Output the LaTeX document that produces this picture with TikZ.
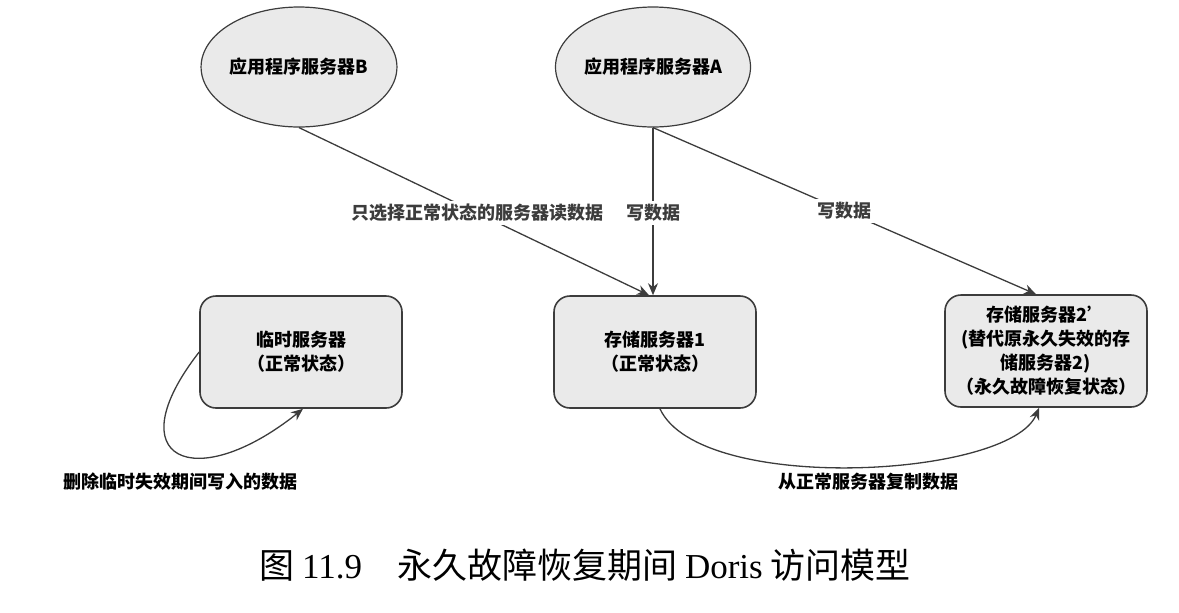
\documentclass[tikz,border=0pt]{standalone}
\usepackage{fontspec}
\setmainfont{Noto Sans CJK SC}
\newfontfamily\capserif{Liberation Serif}
\usetikzlibrary{arrows.meta,shapes.geometric}
\definecolor{nodeGray}{RGB}{234,234,234}
\definecolor{lineGray}{RGB}{60,60,60}

\begin{document}
\begin{tikzpicture}[x=0.5pt,y=-0.5pt,font=\fontsize{9}{12}\selectfont\bfseries,
  app/.style={ellipse,draw=lineGray,fill=nodeGray,line width=0.6pt,minimum width=94pt,minimum height=60pt,inner sep=0pt},
  srv/.style={draw=lineGray,fill=nodeGray,line width=0.8pt,rounded corners=8pt,minimum width=101pt,minimum height=56pt,align=center,inner sep=2pt},
  a/.style={-{Stealth[length=6pt,width=5pt]},line width=0.65pt,lineGray},
  lbl/.style={fill=white,inner sep=1.5pt}]
  \useasboundingbox (0,0) rectangle (1179,612);
  % application servers
  \node[app] (B) at (299,67) {应用程序服务器B};
  \node[app] (A) at (653,67) {应用程序服务器A};
  % storage servers
  \node[srv] (T) at (301,352) {临时服务器\\（正常状态）};
  \node[srv] (S1) at (655,352) {存储服务器1\\（正常状态）};
  \node[srv] (S2) at (1046,351) {存储服务器2’\\(替代原永久失效的存\\储服务器2)\\（永久故障恢复状态）};
  % access paths
  \draw[a] (B.south) -- node[lbl,pos=0.51] {只选择正常状态的服务器读数据} ([xshift=-3pt]S1.north);
  \draw[a] (A.south) -- node[lbl,pos=0.51] {写数据} ([xshift=-1pt]S1.north);
  \draw[a] (A.south) -- node[lbl,pos=0.5] {写数据} (S2.100);
  \draw[a] (S1.-85) .. controls (700,495) and (1010,478) .. (S2.-97);
  \draw[a] (T.west) .. controls (115,460) and (195,495) .. (T.-88);
  \node (del) at (180,482) {删除临时失效期间写入的数据};
  \node (copy) at (868,482) {从正常服务器复制数据};
  % caption
  \node[font=\mdseries\fontsize{17.5}{20}\selectfont] (cap) at (585,565) {图 {\capserif 11.9}\hspace{1em}永久故障恢复期间 {\capserif Doris} 访问模型};
\end{tikzpicture}
\end{document}
